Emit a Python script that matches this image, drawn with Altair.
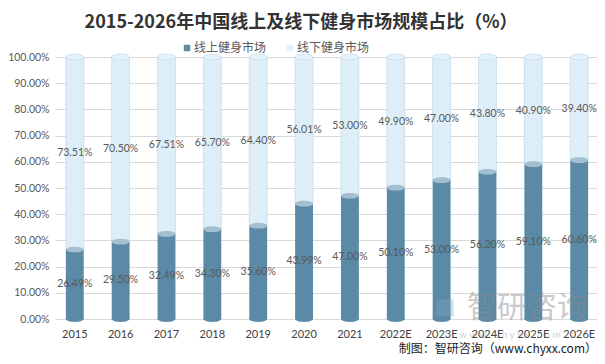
import altair as alt
import pandas as pd

# ---- data ----
years = ["2015", "2016", "2017", "2018", "2019", "2020", "2021",
         "2022E", "2023E", "2024E", "2025E", "2026E"]
online = [26.49, 29.50, 32.49, 34.30, 35.60, 43.99, 47.00, 50.10, 53.00, 56.20, 59.10, 60.60]
offline = [73.51, 70.50, 67.51, 65.70, 64.40, 56.01, 53.00, 49.90, 47.00, 43.80, 40.90, 39.40]
series_names = ["线上健身市场", "线下健身市场"]
title_text = "2015-2026年中国线上及线下健身市场规模占比（%）"
source_text = "制图：智研咨询（www.chyxx.com）"
y_ticks = [0, 10, 20, 30, 40, 50, 60, 70, 80, 90, 100]

DARK = "#5a8aa6"
DARK_TOP = "#a4bfcf"
LIGHT = "#deeef8"
LIGHT_STROKE = "#c6dce8"
LIGHT_TOP = "#e4f2fa"

df = pd.DataFrame({"year": years, "online": online, "offline": offline})
df["zero"] = 0.0
df["total"] = df["online"] + df["offline"]
df["on_mid"] = df["online"] / 2
df["off_mid"] = df["online"] + df["offline"] / 2
df["on_lab"] = [f"{v:.2f}%" for v in online]
df["off_lab"] = [f"{v:.2f}%" for v in offline]

ELLIPSE = "M-1,0 A1,0.32 0 1,1 1,0 A1,0.32 0 1,1 -1,0 Z"
SYM = 324

xscale = alt.Scale(paddingInner=0.61, paddingOuter=0.215, align=0.55)
xaxis = alt.Axis(title=None, labelAngle=0, ticks=False, domain=False, grid=False,
                 labelPadding=9, labelFontSize=11, labelColor="#404040",
                 labelFont="Lato")
yscale = alt.Scale(domain=[0, 100], nice=False)
yaxis = alt.Axis(title=None, values=y_ticks, ticks=False, domain=False,
                 labelExpr="format(datum.value/100, '.2%')",
                 labelPadding=6, labelFontSize=10.5, labelColor="#595959",
                 labelFont="Lato", grid=True, gridColor="#d9d9d9", gridWidth=1)


def X():
    return alt.X("year:N", sort=years, scale=xscale, axis=xaxis)


def Y(field):
    return alt.Y(field, type="quantitative", scale=yscale, axis=yaxis)


base = alt.Chart(df)

light_bar = base.mark_bar(color=LIGHT, stroke=LIGHT_STROKE, strokeWidth=0.8).encode(
    x=X(), y=Y("online"), y2="total:Q")
dark_bar = base.mark_bar(color=DARK).encode(x=X(), y=Y("zero"), y2="online:Q")

bottom_cap = base.mark_point(shape=ELLIPSE, size=SYM, filled=True, fill=DARK,
                             opacity=1).encode(x=X(), y=Y("zero"))
mid_cap = base.mark_point(shape=ELLIPSE, size=SYM, filled=True, fill=DARK_TOP,
                          opacity=1).encode(x=X(), y=Y("online"))
top_cap = base.mark_point(shape=ELLIPSE, size=SYM, filled=True, fill=LIGHT_TOP,
                          stroke=LIGHT_STROKE, strokeWidth=0.8, opacity=1).encode(
    x=X(), y=Y("total"))

on_text = base.mark_text(fontSize=10.5, color="#595959", font="Lato").encode(
    x=X(), y=Y("on_mid"), text="on_lab:N")
off_text = base.mark_text(fontSize=10.5, color="#595959", font="Lato").encode(
    x=X(), y=Y("off_mid"), text="off_lab:N")

# ---- title, legend, source, watermark ----
title = alt.Chart(pd.DataFrame({"t": [title_text]})).mark_text(
    fontSize=18, fontWeight="bold", font="Noto Sans CJK SC", color="#333333",
    align="center", baseline="middle").encode(
    x=alt.value(246), y=alt.value(-34), text="t:N")

leg_df = pd.DataFrame({"name": series_names, "color": [DARK, LIGHT_TOP],
                       "sx": [132, 235], "tx": [139, 242]})
leg_sq = alt.Chart(leg_df).mark_point(shape="square", size=42, filled=True,
                                      opacity=1).encode(
    x=alt.X("sx:Q", scale=None), y=alt.value(-9),
    fill=alt.Color("color:N", scale=None))
leg_tx = alt.Chart(leg_df).mark_text(fontSize=12, font="Noto Sans CJK SC",
                                     color="#595959", align="left",
                                     baseline="middle").encode(
    x=alt.X("tx:Q", scale=None), y=alt.value(-9), text="name:N")

src = alt.Chart(pd.DataFrame({"t": [source_text]})).mark_text(
    fontSize=12, font="Noto Sans CJK SC", color="#1a1a1a", align="right",
    baseline="middle").encode(x=alt.value(542), y=alt.value(292), text="t:N")

wm = alt.Chart(pd.DataFrame({"t": ["智研咨询"]})).mark_text(
    fontSize=30, font="Noto Sans CJK SC", color="#8c8c8c", opacity=0.45,
    align="center", baseline="middle").encode(
    x=alt.value(472), y=alt.value(251), text="t:N")
wm_icon = alt.Chart(pd.DataFrame({"t": ["icon"]})).mark_point(
    shape="square", size=300, filled=True, color="#7fa6c6", opacity=0.35).encode(
    x=alt.value(390), y=alt.value(251))
wm_url = alt.Chart(pd.DataFrame({"t": ["w w w . c h y x x . c o m"]})).mark_text(
    fontSize=10, font="Lato", color="#8c8c8c", opacity=0.4, align="center",
    baseline="middle").encode(x=alt.value(455), y=alt.value(278), text="t:N")

chart = alt.layer(
    light_bar, dark_bar, bottom_cap, mid_cap, top_cap, on_text, off_text,
    wm_icon, wm, wm_url, title, leg_sq, leg_tx, src
).properties(
    width=542, height=262,
    padding={"left": 47, "top": 49, "right": 0, "bottom": 37},
    autosize=alt.AutoSizeParams(type="none"),
    background="white",
).configure_view(stroke=None)

chart.save("out.html", embed_options={"renderer": "svg", "actions": False})
